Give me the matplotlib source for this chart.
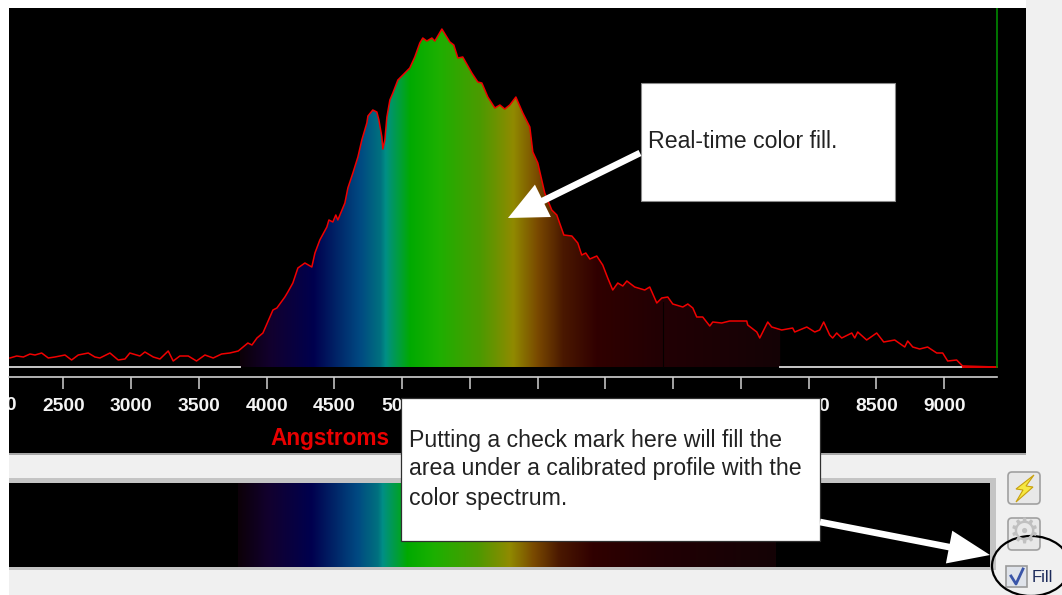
import matplotlib
matplotlib.use("Agg")
import matplotlib.pyplot as plt
import numpy as np
from matplotlib.colors import LinearSegmentedColormap
from matplotlib.patches import Rectangle, Ellipse, Polygon, FancyBboxPatch, PathPatch
from matplotlib.path import Path

plt.rcParams['font.family'] = ['Liberation Sans', 'DejaVu Sans']

W, H = 1062, 595

# wavelength (Angstrom) and profile height
wavelength = [2105, 2155, 2204, 2253, 2290, 2339, 2388, 2437, 2511, 2560, 2609, 2683, 2732, 2769, 2843, 2904,
              2954, 2990, 3064, 3101, 3163, 3212, 3273, 3310, 3359, 3421, 3482, 3544, 3605, 3667, 3728, 3790,
              3861, 3891, 3928, 3972, 4046, 4075, 4134, 4156, 4193, 4230, 4282, 4333, 4356, 4392, 4444, 4459,
              4488, 4510, 4525, 4577, 4599, 4636, 4673, 4702, 4739, 4747, 4783, 4813, 4828, 4850, 4857, 4872,
              4887, 4909, 4931, 4968, 5056, 5093, 5130, 5152, 5182, 5219, 5241, 5293, 5352, 5381, 5411, 5447,
              5514, 5558, 5588, 5632, 5684, 5721, 5757, 5794, 5839, 5890, 5942, 5964, 6001, 6052, 6104, 6141,
              6193, 6252, 6296, 6325, 6355, 6385, 6436, 6480, 6517, 6554, 6591, 6628, 6658, 6716, 6790, 6827,
              6879, 6916, 6960, 6997, 7071, 7108, 7145, 7174, 7218, 7270, 7292, 7358, 7417, 7543, 7550, 7617,
              7639, 7698, 7727, 7801, 7882, 7897, 7986, 8045, 8081, 8111, 8155, 8177, 8207, 8244, 8318, 8340,
              8362, 8428, 8502, 8554, 8635, 8709, 8731, 8768, 8819, 8878, 8945, 8989, 9026, 9092, 9136, 9387]
intensity = [9, 11, 10, 13, 12, 14, 9, 10, 12, 7, 12, 14, 10, 9, 14, 7,
             8, 14, 11, 15, 10, 8, 16, 6, 11, 11, 6, 12, 9, 13, 14, 16,
             24, 22, 29, 34, 57, 59, 70, 75, 84, 99, 104, 100, 114, 127, 140, 147,
             145, 152, 147, 164, 179, 194, 210, 227, 244, 251, 257, 255, 247, 230, 218, 227,
             250, 267, 274, 287, 299, 310, 324, 329, 326, 329, 326, 338, 325, 322, 309, 310,
             294, 285, 284, 270, 259, 262, 258, 262, 270, 254, 240, 215, 204, 174, 157, 152,
             132, 131, 124, 112, 114, 108, 111, 102, 89, 77, 84, 81, 86, 80, 77, 80,
             64, 69, 70, 63, 60, 63, 59, 50, 50, 41, 45, 44, 46, 46, 42, 35,
             29, 45, 40, 37, 39, 35, 40, 35, 37, 45, 32, 29, 34, 29, 34, 29,
             35, 27, 34, 25, 27, 20, 26, 20, 18, 20, 14, 14, 6, 7, 1, 0]

tick_values = [2500, 3000, 3500, 4000, 4500, 5000, 5500, 6000, 6500, 7000, 7500, 8000, 8500, 9000]
cut_label = 2000

# spectrum colours, wavelength of each stop
fill_start, fill_end = 3800, 7790
color_wave = [3800, 4023, 4341, 4687, 4835, 4872, 4946, 5057, 5256, 5573, 5816, 5993, 6185, 6436, 6900, 7790]
color_hex = ['#0c0008', '#12002e', '#00004e', '#004a82', '#00717f', '#008f86', '#009a50', '#00aa00', '#1cb000',
             '#4c9a00', '#908a00', '#7a4a00', '#4a1800', '#300000', '#220004', '#140306']

BG = '#f0f0f0'


def px_axes(left, top, right, bottom, **kw):
    # axes placed by pixel position in the picture
    return fig.add_axes([left / W, 1 - bottom / H, (right - left) / W, (bottom - top) / H], **kw)


fig = plt.figure(figsize=(W / 100, H / 100), dpi=100, facecolor=BG)

# page background
back = px_axes(0, 0, W, H)
back.set_xlim(0, W)
back.set_ylim(H, 0)
back.axis('off')
back.add_patch(Rectangle((0, 0), 9, H, color='white', lw=0))
back.add_patch(Rectangle((0, 0), 1026, 8, color='white', lw=0))
back.add_patch(Rectangle((9, 478), 987, 92, facecolor='#c4c4c4', lw=0))
back.add_patch(Rectangle((9, 453), 1017, 2, facecolor='#a8a8a8', lw=0))

pos = np.array(color_wave, dtype=float)
pos = (pos - pos[0]) / (pos[-1] - pos[0])
spectrum = LinearSegmentedColormap.from_list('spectrum', list(zip(pos, color_hex)), N=512)
grad = np.linspace(0, 1, 512).reshape(1, -1)

# main profile panel
ax = px_axes(9, 8, 1026, 453)
ax.set_facecolor('black')

im = ax.imshow(grad, cmap=spectrum, extent=[fill_start, fill_end, 0, 345], aspect='auto', zorder=1)
wl = np.array(wavelength)
val = np.array(intensity)
inside = (wl > fill_start) & (wl < fill_end)
top_edge = np.interp(fill_end, wl, val)
verts = [(fill_start, 0), (fill_start, np.interp(fill_start, wl, val))]
verts += list(zip(wl[inside], val[inside]))
verts += [(fill_end, top_edge), (fill_end, 0), (fill_start, 0)]
im.set_clip_path(PathPatch(Path(verts), transform=ax.transData))

ax.plot([2098, fill_start], [0, 0], color='#c8c8c8', lw=1.4, zorder=2)
ax.plot([fill_end, 9136], [0, 0], color='#c8c8c8', lw=1.4, zorder=2)
ax.plot([6925, 6925], [0, 65], color='#050000', lw=0.8, zorder=2)
ax.plot(wavelength, intensity, color='#f00000', lw=1.1, zorder=3)
ax.plot([9136, 9390], [0, 0], color='#e00000', lw=1.4, zorder=3)
ax.plot([9390, 9390], [0, 359], color='#008a00', lw=1.2, zorder=3)

for s in ['top', 'left', 'right']:
    ax.spines[s].set_visible(False)
ax.spines['bottom'].set_position(('data', -10))
ax.spines['bottom'].set_bounds(2098, 9390)
ax.spines['bottom'].set_color('#d0d0d0')
ax.spines['bottom'].set_linewidth(1.2)
ax.set_yticks([])
ax.set_xticks(tick_values)
ax.set_xticklabels([str(t) for t in tick_values])
ax.tick_params(axis='x', direction='out', length=8.5, width=1.1, color='#d0d0d0', pad=6.5,
               labelcolor='#f4f4f4', labelsize=13.9)
for t in ax.get_xticklabels():
    t.set_fontweight('bold')
# limits last, set_xticks widens the view otherwise
ax.set_xlim(2098, 9604)
ax.set_ylim(-86, 359)
# the first label runs off the left of the panel
ax.text(cut_label, -38, str(cut_label), color='#f4f4f4', fontsize=13.9, fontweight='bold',
        ha='center', va='center', clip_on=True)
ax.text(4470, -72, 'Angstroms', color='#e80000', fontsize=16.3, fontweight='bold', ha='center', va='center')

# bottom colour strip
strip = px_axes(9, 483, 990, 567)
strip.set_facecolor('black')
strip.imshow(grad, cmap=spectrum, extent=[fill_start, fill_end, 0, 1], aspect='auto')
strip.set_xlim(2100, 9383)
strip.set_ylim(0, 1)
strip.set_xticks([])
strip.set_yticks([])
for s in strip.spines.values():
    s.set_visible(False)

# callouts and buttons on top, in picture pixels
top = px_axes(0, 0, W, H)
top.set_xlim(0, W)
top.set_ylim(H, 0)
top.axis('off')
top.patch.set_alpha(0)

top.add_patch(Rectangle((641, 83), 254, 118, facecolor='white', edgecolor='#8a8a8a', lw=0.8))
top.text(648, 142, 'Real-time color fill.', fontsize=16.7, color='#222222', va='center', ha='left')

top.annotate('', xy=(508, 218), xytext=(640, 153),
             arrowprops=dict(arrowstyle='simple,head_length=1.4,head_width=1.3,tail_width=0.24',
                             color='white', lw=0, mutation_scale=20, shrinkA=0, shrinkB=0))

top.add_patch(Rectangle((401, 398), 419, 143, facecolor='white', edgecolor='#303030', lw=0.9))
top.text(409, 440, 'Putting a check mark here will fill the', fontsize=16.7, color='#222222', va='center')
top.text(409, 468, 'area under a calibrated profile with the', fontsize=16.7, color='#222222', va='center')
top.text(409, 498, 'color spectrum.', fontsize=16.7, color='#222222', va='center')

top.annotate('', xy=(990, 555), xytext=(820, 522),
             arrowprops=dict(arrowstyle='simple,head_length=1.5,head_width=1.2,tail_width=0.24',
                             color='white', lw=0, mutation_scale=20, shrinkA=0, shrinkB=0))

for y0 in [471, 517]:
    top.add_patch(FancyBboxPatch((1008, y0 + 1), 32, 32, boxstyle='round,pad=0,rounding_size=4',
                                 facecolor='#e8e8e8', edgecolor='#a0a0a0', lw=1.2))
top.add_patch(Polygon([(1034, 475), (1016, 489), (1023, 490), (1016, 502), (1033, 487), (1026, 486)],
                      facecolor='#f6e840', edgecolor='#c8a010', lw=0.8))
top.text(1024, 534, '\u2699', fontsize=25, color='#c0c0c0', ha='center', va='center', family='DejaVu Sans')

top.add_patch(Rectangle((1006, 566), 21, 21, facecolor='#dfe3ea', edgecolor='#9a9a9a', lw=1.2))
top.plot([1011, 1016, 1023], [576, 584, 569], color='#3a55a8', lw=2)
top.text(1032, 577, 'Fill', fontsize=12, color='#1c2a5a', va='center')

top.add_patch(Ellipse((1031, 566), 78, 60, facecolor='none', edgecolor='black', lw=1.6))

fig.savefig('out.png', dpi=100, facecolor=BG)
